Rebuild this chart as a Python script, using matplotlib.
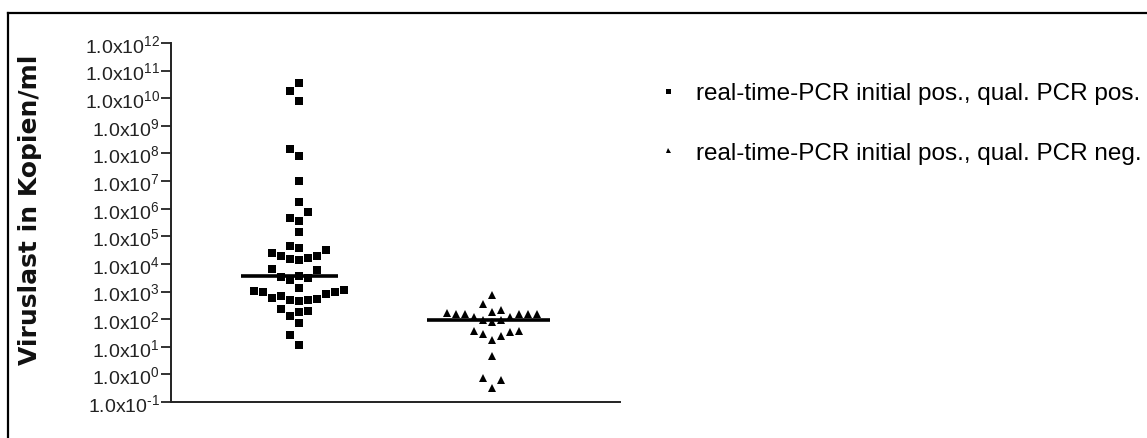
import numpy as np
import matplotlib
matplotlib.use("Agg")
import matplotlib.pyplot as plt
from matplotlib.lines import Line2D
from matplotlib.ticker import NullLocator, FixedLocator, FixedFormatter

plt.rcParams['font.family'] = ['Liberation Sans', 'DejaVu Sans']
plt.rcParams['mathtext.fontset'] = 'custom'
plt.rcParams['mathtext.rm'] = 'Liberation Sans'
plt.rcParams['mathtext.it'] = 'Liberation Sans:italic'
plt.rcParams['mathtext.bf'] = 'Liberation Sans:bold'

# ---------------- data ----------------
group_labels = ["real-time-PCR initial pos., qual. PCR pos.",
                "real-time-PCR initial pos., qual. PCR neg."]
qual_pos = [3.5e10, 1.9e10, 7.8e9, 1.45e8, 7.9e7, 9.8e6, 1.7e6, 7.4e5, 4.6e5,
            3.7e5, 1.4e5, 4.6e4, 3.7e4, 3.2e4, 2.0e4, 1.7e4, 1.4e4, 1.5e4,
            1.9e4, 2.4e4, 6.2e3, 6.6e3, 3.8e3, 3.5e3, 3.0e3, 2.7e3, 1.4e3,
            1.14e3, 9.9e2, 7.9e2, 5.7e2, 5.1e2, 4.9e2, 5.4e2, 6.9e2, 4.6e2,
            9.4e2, 1.07e3, 2.4e2, 1.3e2, 1.8e2, 1.9e2, 71, 27, 12]
qual_neg = [750, 355, 186, 220, 154, 154, 154, 120, 92, 77, 92, 120, 154,
            154, 165, 38, 29, 17.6, 25, 33, 38, 4.5, 0.72, 0.65, 0.32]
exponents = list(range(-1, 13))
tick_labels = [f"1.0x10$^{{{k}}}$" if k >= 0 else f"1.0x10$^{{\u2010{-k}}}$"
               for k in exponents]
ylabel = "Viruslast in Kopien/ml"

W, H = 1147, 439
fig = plt.figure(figsize=(W / 100, H / 100), dpi=100)
ax = fig.add_axes([171 / W, 1 - 403 / H, 449 / W, 359 / H])
ax.set_yscale('log')
ax.set_ylim(10.0 ** exponents[0], 10.0 ** exponents[-1])
ax.set_xlim(0.335, 2.661)

for s in ['top', 'right']:
    ax.spines[s].set_visible(False)
for s in ['left', 'bottom']:
    ax.spines[s].set_linewidth(1.4)
    ax.spines[s].set_color('#222222')
ax.set_xticks([])
ax.yaxis.set_major_locator(FixedLocator([10.0 ** k for k in exponents]))
ax.yaxis.set_major_formatter(FixedFormatter(tick_labels))
ax.yaxis.set_minor_locator(NullLocator())
ax.tick_params(axis='y', direction='out', length=7, width=1.3, pad=1,
               labelsize=14, colors='#222222')
ax.set_ylabel(ylabel, fontweight='bold', fontsize=18, color='#111111',
              family='DejaVu Sans')
ax.yaxis.set_label_coords((42 - 171) / 449, (403 - 210) / 359)


def swarm_x(ax, xc, vals, dx_px=9.0, dy_px=11.0, first=-1):
    vals = np.asarray(vals, dtype=float)
    pts = ax.transData.transform(np.column_stack([np.full(len(vals), xc), vals]))
    ys = pts[:, 1]
    order = np.argsort(ys, kind='stable')
    placed = []
    xs = np.zeros(len(vals))
    cands = [0]
    for j in range(1, 30):
        cands += [first * j, -first * j]
    for i in order:
        for c in cands:
            x = pts[i, 0] + c * dx_px
            if all(not (abs(x - px) < dx_px - 0.5 and abs(ys[i] - py) < dy_px)
                   for px, py in placed):
                break
        placed.append((x, ys[i]))
        xs[i] = x
    return ax.transData.inverted().transform(np.column_stack([xs, ys]))[:, 0]


series = [(1, qual_pos, 's', 5.2, (0.30, 0.20), 11.0, -1),
          (2, qual_neg, '^', 5.4, (0.34, 0.30), 10.0, 1)]
handles = []
for xc, vals, mk, ms, (wl, wr), dy, first in series:
    xs = swarm_x(ax, xc, vals, dy_px=dy, first=first)
    ax.plot(xs, vals, linestyle='none', marker=mk, markersize=ms,
            color='black', markeredgewidth=0, clip_on=False)
    med = np.median(vals)
    ax.hlines(med, xc - wl, xc + wr, color='black', linewidth=2.6)
    handles.append(Line2D([], [], linestyle='none', marker=mk,
                          markersize=3.6, color='black', markeredgewidth=0))

fig.legend(handles, group_labels, loc='upper left',
           bbox_to_anchor=(658 / W, 1 - 83 / H), frameon=False, fontsize=17.5,
           handlelength=0.8, handletextpad=0.75, labelspacing=1.55,
           borderpad=0, borderaxespad=0)

# outer frame (left and top visible)
fig.add_artist(Line2D([8 / W, 8 / W], [0, 1 - 14 / H], transform=fig.transFigure,
                      color='black', linewidth=1.6))
fig.add_artist(Line2D([8 / W, 1], [1 - 14 / H, 1 - 14 / H],
                      transform=fig.transFigure, color='black', linewidth=1.6))

fig.savefig('out.png', dpi=100, facecolor='white')
